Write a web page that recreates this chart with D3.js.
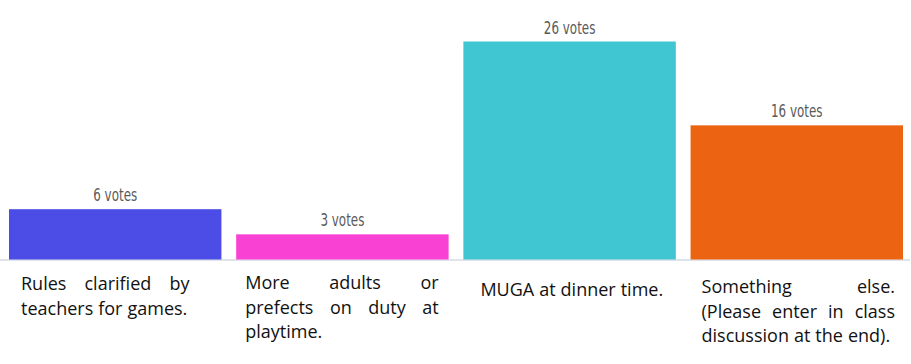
<!DOCTYPE html>
<html>
<head>
<meta charset="utf-8">
<script src="https://cdn.jsdelivr.net/npm/d3@7"></script>
<style>
  body { margin: 0; background: #fff; }
  svg { display: block; }
</style>
</head>
<body>
<div id="wrapper"></div>
<script>
// data
const categories = [
  "Rules clarified by teachers for games.",
  "More adults or prefects on duty at playtime.",
  "MUGA at dinner time.",
  "Something else. (Please enter in class discussion at the end).",
]
const votes = [6, 3, 26, 16]
const voteLabels = ["6 votes", "3 votes", "26 votes", "16 votes"]
const labelLines = [
  ["Rules clarified by", "teachers for games."],
  ["More adults or", "prefects on duty at", "playtime."],
  ["MUGA at dinner time."],
  ["Something else.", "(Please enter in class", "discussion at the end)."],
]
const colors = ["#4b4de6", "#f942d4", "#40c6d2", "#ec6311"]

// layout of the label boxes under each bar (left inset, right inset, first baseline)
const labelBoxes = [
  { left: 12, right: 32, y: 290 },
  { left: 9, right: 10, y: 289 },
  { left: 17, right: 10, y: 296 },
  { left: 11, right: 8, y: 293 },
]

function drawChart() {
  const dimensions = {
    width: 911,
    height: 364,
    baseline: 259.5,
    top: 41.5,
    left: 9,
    right: 903,
  }

  const wrapper = d3.select("#wrapper")
    .append("svg")
      .attr("width", dimensions.width)
      .attr("height", dimensions.height)

  const xScale = d3.scaleBand()
    .domain(categories)
    .range([dimensions.left, dimensions.right])
    .paddingInner(0.065)
    .paddingOuter(0)

  const yScale = d3.scaleLinear()
    .domain([0, d3.max(votes)])
    .range([dimensions.baseline, dimensions.top])

  const data = categories.map((c, i) => ({
    category: c,
    votes: votes[i],
    label: voteLabels[i],
    lines: labelLines[i],
    color: colors[i],
    box: labelBoxes[i],
  }))

  // baseline
  wrapper.append("line")
    .attr("x1", 0)
    .attr("x2", 910)
    .attr("y1", dimensions.baseline + 0.5)
    .attr("y2", dimensions.baseline + 0.5)
    .attr("stroke", "#dfe3ea")
    .attr("stroke-width", 2)

  wrapper.selectAll("rect.bar")
    .data(data)
    .enter()
      .append("rect")
      .attr("class", "bar")
      .attr("x", d => xScale(d.category))
      .attr("y", d => yScale(d.votes))
      .attr("width", xScale.bandwidth())
      .attr("height", d => yScale(0) - yScale(d.votes))
      .attr("fill", d => d.color)

  // value labels, squeezed horizontally to mimic the condensed face
  wrapper.selectAll("text.value")
    .data(data)
    .enter()
      .append("text")
      .attr("class", "value")
      .attr("transform", d => `translate(${xScale(d.category) + xScale.bandwidth() / 2}, ${yScale(d.votes) - 8}) scale(0.78, 1)`)
      .attr("text-anchor", "middle")
      .attr("fill", "#5a5a5a")
      .style("font-family", "'DejaVu Sans Condensed', 'Liberation Sans', sans-serif")
      .style("font-size", "17px")
      .text(d => d.label)

  // justified category labels
  data.forEach(d => {
    const x0 = xScale(d.category) + d.box.left
    const x1 = xScale(d.category) + xScale.bandwidth() - d.box.right
    const g = wrapper.append("g")
      .style("font-family", "'Open Sans', 'Noto Sans', sans-serif")
      .style("font-size", "18px")
      .attr("fill", "#111")

    d.lines.forEach((line, li) => {
      const y = d.box.y + li * 24.5
      const words = line.split(" ")
      const last = li === d.lines.length - 1
      const nodes = words.map(w => g.append("text").attr("y", y).text(w))
      const widths = nodes.map(n => n.node().getComputedTextLength())
      const total = d3.sum(widths)
      const space = (!last && words.length > 1)
        ? (x1 - x0 - total) / (words.length - 1)
        : 5
      let x = x0
      nodes.forEach((n, i) => {
        n.attr("x", x)
        x += widths[i] + space
      })
    })
  })
}
drawChart()
</script>
</body>
</html>
